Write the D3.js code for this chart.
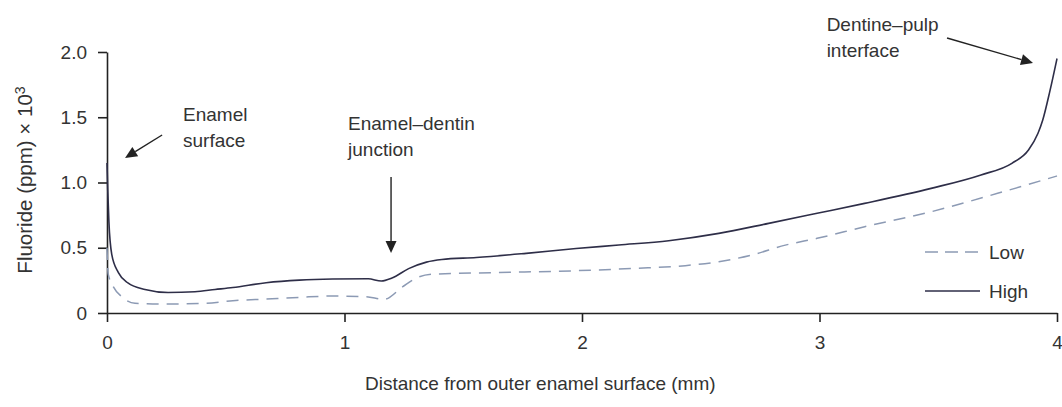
<!DOCTYPE html>
<html><head><meta charset="utf-8">
<script src="https://cdn.jsdelivr.net/npm/d3@7"></script>
<style>
body{margin:0;background:#fff;}
text{font-family:"Liberation Sans",Arial,Helvetica,sans-serif;}
</style></head>
<body>
<svg id="c" width="1062" height="407"></svg>
<script>
// Data (distance in mm, fluoride in ppm x 10^3)
const highX = [0,0.003,0.008,0.02,0.048,0.088,0.16,0.257,0.37,0.455,0.53,0.67,0.81,0.95,1.1,1.155,1.2,1.27,1.345,1.41,1.555,1.765,1.975,2.155,2.365,2.576,2.786,2.99,3.19,3.47,3.68,3.81,3.88,3.92,3.94,3.97,4.0];
const highY = [1.15,0.95,0.7,0.45,0.31,0.23,0.18,0.157,0.163,0.18,0.195,0.232,0.252,0.26,0.262,0.245,0.268,0.34,0.39,0.41,0.425,0.457,0.494,0.521,0.554,0.61,0.687,0.764,0.84,0.955,1.058,1.147,1.249,1.377,1.479,1.7,1.95];
const lowX = [0,0.005,0.027,0.062,0.118,0.23,0.41,0.53,0.67,0.81,0.95,1.09,1.168,1.244,1.30,1.37,1.62,1.975,2.225,2.435,2.576,2.714,2.856,2.99,3.19,3.47,3.75,4.0];
const lowY = [0.5,0.3,0.2,0.125,0.074,0.069,0.074,0.094,0.107,0.12,0.13,0.125,0.105,0.2,0.266,0.297,0.309,0.324,0.342,0.363,0.393,0.444,0.52,0.572,0.661,0.776,0.917,1.05];
const xTicks = [0,1,2,3,4];
const xTickLabels = ["0","1","2","3","4"];
const yTicks = [0,0.5,1.0,1.5,2.0];
const yTickLabels = ["0","0.5","1.0","1.5","2.0"];
const seriesNames = ["Low","High"];
const xTitle = "Distance from outer enamel surface (mm)";
const yTitle = "Fluoride (ppm) \u00d7 10";

const svg = d3.select("#c");
const x = d3.scaleLinear().domain([0,4]).range([107,1057]);
const y = d3.scaleLinear().domain([0,2]).range([313,52]);
const ink = "#222";
const FS = 19;

// axes
const gx = svg.append("g").attr("transform",`translate(0,${y(0)})`)
  .call(d3.axisBottom(x).tickValues(xTicks).tickFormat((d,i)=>xTickLabels[i]).tickSize(9).tickSizeOuter(0).tickPadding(14));
const gy = svg.append("g").attr("transform",`translate(${x(0)},0)`)
  .call(d3.axisLeft(y).tickValues(yTicks).tickFormat((d,i)=>yTickLabels[i]).tickSize(9).tickSizeOuter(0).tickPadding(11));
[gx,gy].forEach(g=>{
  g.selectAll("path,line").attr("stroke",ink).attr("stroke-width",1.6);
  g.selectAll("text").attr("font-size",FS).attr("fill","#333").attr("font-family","Liberation Sans, Arial, sans-serif");
});

// lines
const line = d3.line().x(d=>x(d[0])).y(d=>y(d[1])).curve(d3.curveMonotoneX);
const high = highX.map((v,i)=>[v,highY[i]]);
const low = lowX.map((v,i)=>[v,lowY[i]]);
svg.append("path").datum(low).attr("d",line).attr("fill","none")
  .attr("stroke","#8c9ab4").attr("stroke-width",1.5).attr("stroke-dasharray","12,8");
svg.append("path").datum(high).attr("d",line).attr("fill","none")
  .attr("stroke","#2e2e48").attr("stroke-width",1.6);

// axis titles
svg.append("text").attr("x",365).attr("y",390).attr("font-size",FS).attr("fill","#333").text(xTitle);
const yt = svg.append("text").attr("transform","rotate(-90)").attr("x",-180).attr("y",32)
  .attr("text-anchor","middle").attr("font-size",20.5).attr("fill","#333");
yt.append("tspan").text(yTitle);
yt.append("tspan").attr("dy",-7).attr("font-size",14).text("3");

// annotations
function arrow(x1,y1,x2,y2){
  const ang = Math.atan2(y2-y1,x2-x1);
  const L=12, W=5.5;
  const bx = x2 - L*Math.cos(ang), by = y2 - L*Math.sin(ang);
  svg.append("line").attr("x1",x1).attr("y1",y1).attr("x2",bx).attr("y2",by).attr("stroke",ink).attr("stroke-width",1.4);
  const px = -Math.sin(ang), py = Math.cos(ang);
  svg.append("path").attr("d",`M${x2},${y2}L${bx+px*W},${by+py*W}L${bx-px*W},${by-py*W}Z`).attr("fill",ink);
}
function label(lines,xv,yv,dy){
  lines.forEach((t,i)=>svg.append("text").attr("x",x(xv)).attr("y",y(yv)+i*dy).attr("font-size",FS).attr("fill","#333").text(t));
}
label(["Enamel","surface"],0.32,1.471,26);
arrow(x(0.232),y(1.364),x(0.076),y(1.188));
label(["Enamel\u2013dentin","junction"],1.015,1.402,26);
arrow(x(1.196),y(1.042),x(1.196),y(0.46));
label(["Dentine\u2013pulp","interface"],3.03,2.161,26);
arrow(x(3.537),y(2.107),x(3.899),y(1.916));

// legend
const leg = [{n:seriesNames[0],c:"#8c9ab4",d:"13,7",y:252},{n:seriesNames[1],c:"#2e2e48",d:null,y:291}];
leg.forEach(l=>{
  svg.append("line").attr("x1",925).attr("x2",980).attr("y1",l.y).attr("y2",l.y)
    .attr("stroke",l.c).attr("stroke-width",1.5).attr("stroke-dasharray",l.d);
  svg.append("text").attr("x",989).attr("y",l.y+6.5).attr("font-size",FS).attr("fill","#333").text(l.n);
});
</script>
</body></html>
